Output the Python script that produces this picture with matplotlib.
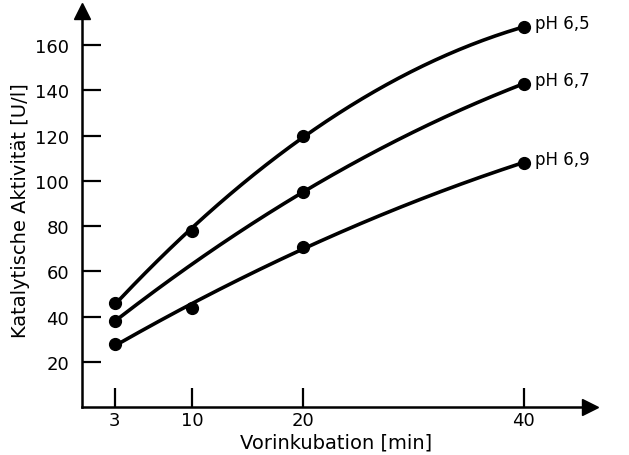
import numpy as np
import matplotlib
matplotlib.use("Agg")
import matplotlib.pyplot as plt

# ── Data ─────────────────────────────────────────────────────────────
minutes_65 = [3, 10, 20, 40]
activity_65 = [46, 78, 120, 168]
minutes_67 = [3, 20, 40]
activity_67 = [38, 95, 143]
minutes_69 = [3, 10, 20, 40]
activity_69 = [28, 44, 71, 108]
series_labels = ["pH 6,5", "pH 6,7", "pH 6,9"]
x_ticks = [3, 10, 20, 40]
y_ticks = [20, 40, 60, 80, 100, 120, 140, 160]

plt.rcParams["font.family"] = ["DejaVu Sans"]

fig = plt.figure(figsize=(6.29, 4.56), dpi=100)
ax = fig.add_axes([0.130, 0.105, 0.808, 0.868])
ax.set_xlim(0, 46)
ax.set_ylim(0, 175)

series = [(minutes_65, activity_65), (minutes_67, activity_67), (minutes_69, activity_69)]
for (xs, ys), lab in zip(series, series_labels):
    xs = np.asarray(xs, float)
    ys = np.asarray(ys, float)
    # smooth hand-drawn style trend curve (quadratic fit)
    coef = np.polyfit(xs, ys, 2)
    xx = np.linspace(xs.min() + 0.4, xs.max() - 0.4, 200)
    ax.plot(xx, np.polyval(coef, xx), color="black", lw=2.6, solid_capstyle="round")
    ax.plot(xs, ys, "o", color="black", ms=8.5, clip_on=False)
    ax.annotate(lab, (xs[-1], ys[-1]), xytext=(8, 3), textcoords="offset points",
                fontsize=12, va="center", ha="left")

# ── Axes style: arrows, inward ticks ──────────────────────────────────
for side in ("top", "right"):
    ax.spines[side].set_visible(False)
for side in ("left", "bottom"):
    ax.spines[side].set_linewidth(1.8)
ax.plot(1, 0, ">", color="black", ms=12, transform=ax.get_yaxis_transform(), clip_on=False)
ax.plot(0, 1, "^", color="black", ms=12, transform=ax.get_xaxis_transform(), clip_on=False)

ax.set_xticks(x_ticks)
ax.set_yticks(y_ticks)
ax.tick_params(axis="both", direction="in", length=14, width=1.6, labelsize=13)
ax.tick_params(axis="y", pad=9)
ax.tick_params(axis="x", pad=3)

ax.set_xlabel("Vorinkubation [min]", fontsize=14, labelpad=2)
ax.set_ylabel("Katalytische Aktivität [U/l]", fontsize=14, labelpad=4)

fig.savefig("out.png", dpi=100)
